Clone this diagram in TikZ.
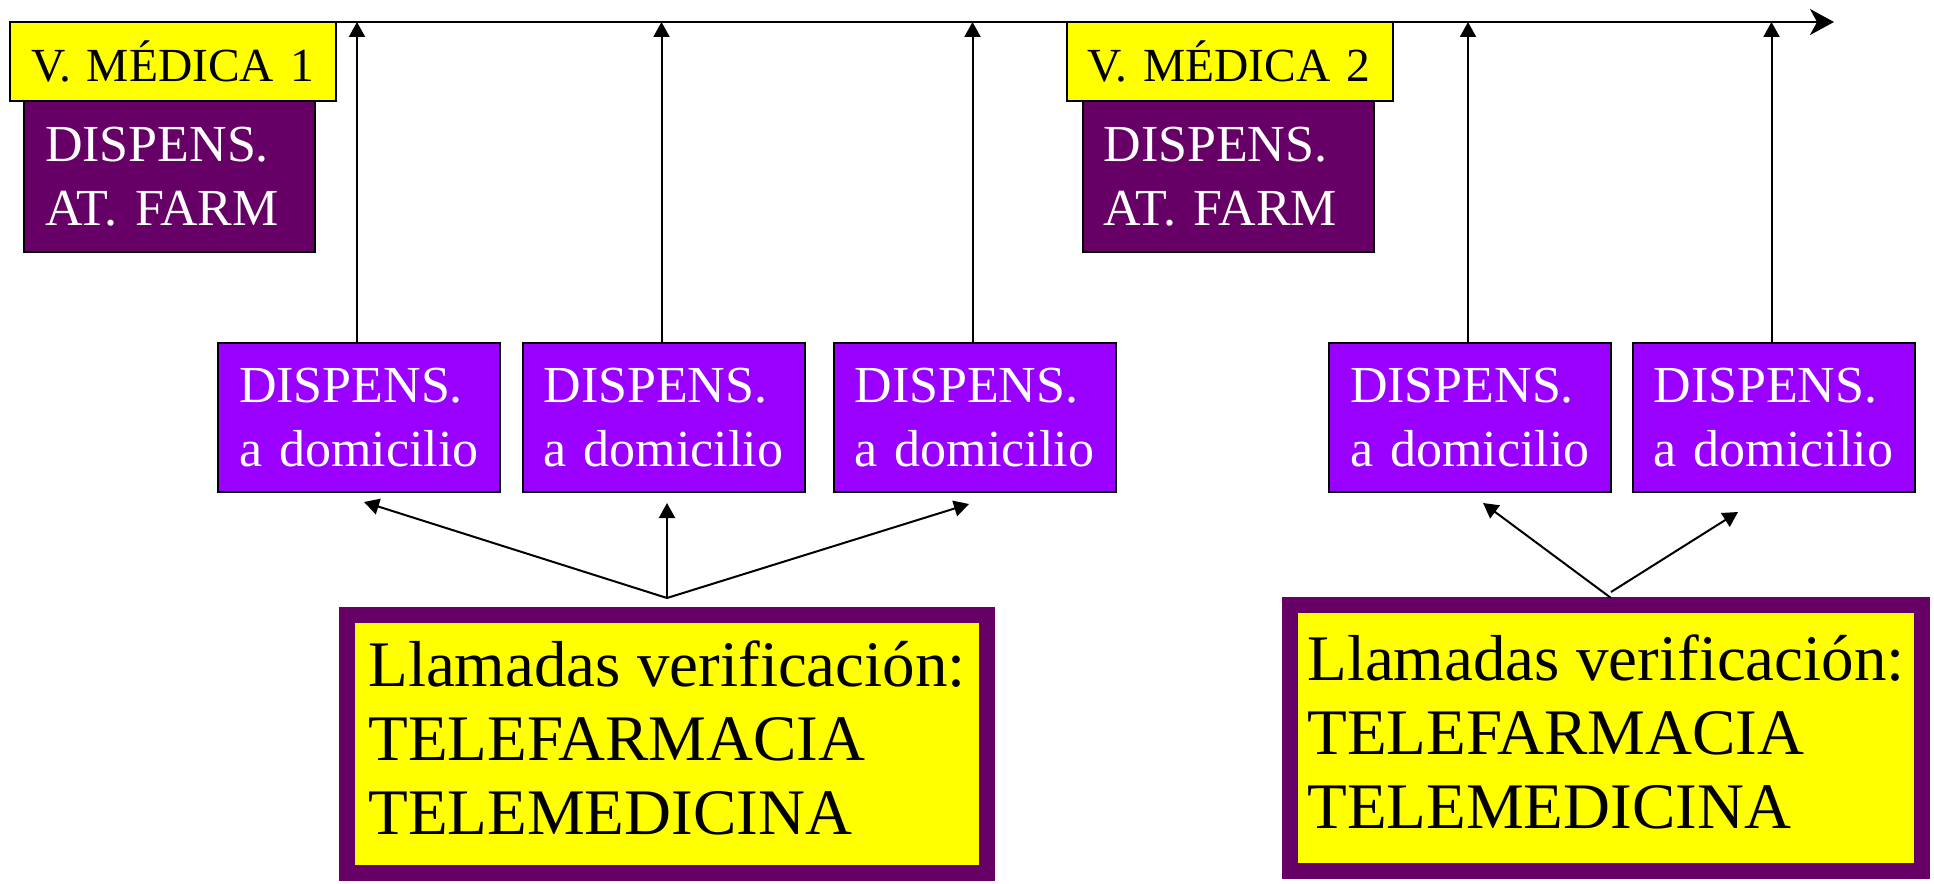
\documentclass[tikz,border=0pt]{standalone}
\usepackage{fontspec}
\setmainfont{Liberation Serif}
\usetikzlibrary{arrows.meta,calc}
\definecolor{ylw}{HTML}{FFFF00}
\definecolor{dpurp}{HTML}{660066}
\definecolor{vpurp}{HTML}{9900FF}
\begin{document}
\begin{tikzpicture}[x=1pt,y=-1pt,
  medbox/.style={draw=black,line width=2pt,fill=ylw,minimum width=326pt,minimum height=79pt,
    inner xsep=21pt,inner ysep=0pt,text width=284pt,align=left,text=black,font=\fontsize{47.5}{52}\selectfont},
  farmbox/.style={draw=black,line width=2pt,fill=dpurp,minimum height=151pt,inner xsep=21pt,
    text width=249pt,align=left,text=white,font=\fontsize{52}{64}\selectfont},
  dombox/.style={draw=black,line width=2pt,fill=vpurp,minimum height=149pt,inner xsep=21pt,
    text width=240pt,align=left,text=white,font=\fontsize{52}{64}\selectfont},
  callbox/.style={draw=dpurp,line width=16pt,fill=ylw,inner sep=0pt,align=left,text=black,
    text depth=12pt,font=\fontsize{65}{74}\selectfont},
  uparr/.style={draw=black,line width=2pt,-{Triangle[length=15pt,width=16pt]}},
  timeline/.style={draw=black,line width=2pt,-{Stealth[length=24pt,width=26pt,inset=7pt]}}
]
\useasboundingbox (0,0) rectangle (1934,883);
\coordinate (ts) at (10,22);
\coordinate (te) at (1834,22);
\draw[timeline] (ts) -- (te);

\node[farmbox] (f1) at (169.5,176.5) {DISPENS.\\AT. FARM};
\node[medbox] (m1) at (173,61.5) {V. MÉDICA 1};
\node[farmbox] (f2) at (1228,176.5) {DISPENS.\\AT. FARM};
\node[medbox] (m2) at (1229.5,61.5) {V. MÉDICA 2};

\node[dombox] (p1) at (359,417.5) {DISPENS.\\a domicilio};
\node[dombox] (p2) at (663.5,417.5) {DISPENS.\\a domicilio};
\node[dombox] (p3) at (974.5,417.5) {DISPENS.\\a domicilio};
\node[dombox] (p4) at (1470,417.5) {DISPENS.\\a domicilio};
\node[dombox] (p5) at (1773.5,417.5) {DISPENS.\\a domicilio};

\foreach \p in {p1,p2,p3,p4,p5}{
  \coordinate (\p s) at ($(\p.north)+(-2,0)$);
  \draw[uparr] (\p s) -- (\p s |- ts);
}

\node[callbox,minimum width=640pt,minimum height=258pt] (c1) at (667,744)
  {Llamadas verificación:\\TELEFARMACIA\\TELEMEDICINA};
\node[callbox,minimum width=632pt,minimum height=266pt] (c2) at (1606,738)
  {Llamadas verificación:\\TELEFARMACIA\\TELEMEDICINA};

\coordinate (a1) at ($(c1.north)+(0,-9)$);
\coordinate (t1) at (364,502);
\coordinate (t2) at (667,503);
\coordinate (t3) at (969,504);
\draw[uparr] (a1) -- (t1);
\draw[uparr] (a1) -- (t2);
\draw[uparr] (a1) -- (t3);

\coordinate (a2) at (1611,598);
\coordinate (a3) at (1611,592);
\coordinate (t4) at (1483,503);
\coordinate (t5) at (1738,512);
\draw[uparr] (a2) -- (t4);
\draw[uparr] (a3) -- (t5);
\end{tikzpicture}
\end{document}
